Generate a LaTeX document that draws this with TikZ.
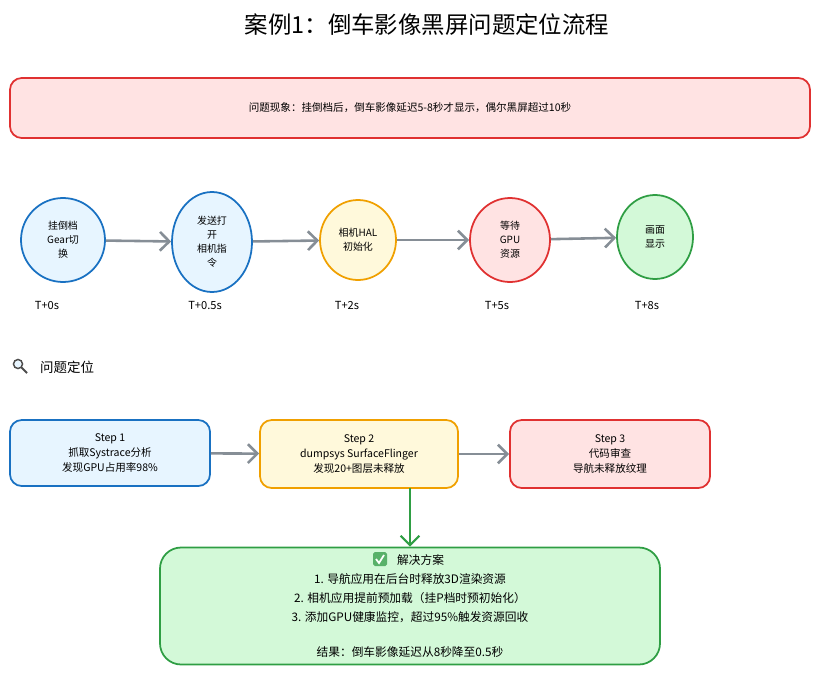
\documentclass[tikz,border=0pt]{standalone}
\usepackage{fontspec}
\setmainfont{Noto Sans CJK SC}
\usetikzlibrary{shapes.geometric,arrows.meta}
\definecolor{cblue}{HTML}{1971C2}\definecolor{fblue}{HTML}{E7F5FF}
\definecolor{cyel}{HTML}{F0A000}\definecolor{fyel}{HTML}{FFF9DB}
\definecolor{cred}{HTML}{E03131}\definecolor{fred}{HTML}{FFE3E3}
\definecolor{cgrn}{HTML}{2F9E44}\definecolor{fgrn}{HTML}{D3F9D8}
\definecolor{cgray}{HTML}{868E96}
\tikzset{
  stage/.style={ellipse, line width=1.5pt, align=center, font=\fontsize{8.5}{12}\selectfont, inner sep=0pt},
  stepbox/.style={rounded corners=10pt, line width=1.5pt, align=center, font=\fontsize{9}{13}\selectfont},
  flow/.style={-{Straight Barb[length=8pt,width=16pt]}, line width=2.2pt, cgray},
  tlabel/.style={font=\fontsize{9.5}{11}\selectfont}
}
\begin{document}
\begin{tikzpicture}[x=0.03cm,y=-0.03cm]
    \useasboundingbox (0,0) rectangle (820,673);
    \node[font=\fontsize{20}{22}\selectfont] (title) at (427,25) {案例1：倒车影像黑屏问题定位流程};
    \node[stepbox, draw=cred, fill=fred, minimum width=800*0.03cm, minimum height=60*0.03cm] (symptom) at (410,108)
        {问题现象：挂倒档后，倒车影像延迟5-8秒才显示，偶尔黑屏超过10秒};
    % timeline
    \node[stage, draw=cblue, fill=fblue, minimum width=84*0.03cm, minimum height=84*0.03cm] (s1) at (63,240) {挂倒档\\Gear切\\换};
    \node[stage, draw=cblue, fill=fblue, minimum width=80*0.03cm, minimum height=100*0.03cm] (s2) at (212,242) {发送打\\开\\相机指\\令};
    \node[stage, draw=cyel, fill=fyel, minimum width=76*0.03cm, minimum height=80*0.03cm] (s3) at (358,240) {相机HAL\\初始化};
    \node[stage, draw=cred, fill=fred, minimum width=80*0.03cm, minimum height=84*0.03cm] (s4) at (510,240) {等待\\GPU\\资源};
    \node[stage, draw=cgrn, fill=fgrn, minimum width=76*0.03cm, minimum height=84*0.03cm] (s5) at (655,237) {画面\\显示};
    \draw[flow] (s1) -- (s2);
    \draw[flow] (s2) -- (s3);
    \draw[flow] (s3) -- (s4);
    \draw[flow] (s4) -- (s5);
    \node[tlabel] (t1) at (47,305) {T+0s};
    \node[tlabel] (t2) at (205,305) {T+0.5s};
    \node[tlabel] (t3) at (347,305) {T+2s};
    \node[tlabel] (t4) at (497,305) {T+5s};
    \node[tlabel] (t5) at (647,305) {T+8s};
    % locating
    \draw[line width=1.3pt, black!70] (18,364) circle (4.5);
    \draw[line width=1.8pt, black!70] (21.5,367.5) -- (27,373);
    \fill[fblue] (18,364) circle (3.3);
    \node[anchor=west, font=\fontsize{11.5}{13}\selectfont] (loc) at (36,367) {问题定位};
    \node[stepbox, draw=cblue, fill=fblue, minimum width=200*0.03cm, minimum height=66*0.03cm] (p1) at (110,453)
        {Step 1\\抓取Systrace分析\\发现GPU占用率98\%};
    \node[stepbox, draw=cyel, fill=fyel, minimum width=198*0.03cm, minimum height=68*0.03cm] (p2) at (359,454)
        {Step 2\\dumpsys SurfaceFlinger\\发现20+图层未释放};
    \node[stepbox, draw=cred, fill=fred, minimum width=200*0.03cm, minimum height=68*0.03cm] (p3) at (610,454)
        {Step 3\\代码审查\\导航未释放纹理};
    \draw[flow] (p1) -- (p2);
    \draw[flow] (p2) -- (p3);
    \node[stepbox, draw=cgrn, fill=fgrn, rounded corners=18pt, minimum width=500*0.03cm, minimum height=117*0.03cm,
          font=\fontsize{10}{16}\selectfont] (fix) at (410,606)
        {\hspace{18pt}解决方案\\1. 导航应用在后台时释放3D渲染资源\\2. 相机应用提前预加载（挂P档时预初始化）\\3. 添加GPU健康监控，超过95\%触发资源回收\\[14pt]结果：倒车影像延迟从8秒降至0.5秒};
    \coordinate (p2b) at (410,488);
    \draw[-{Straight Barb[length=8pt,width=16pt]}, line width=1.8pt, cgrn] (p2b) -- (fix.north -| p2b);
    % check mark
    \fill[cgrn!80, rounded corners=1.5pt] (373,552) rectangle (387,566);
    \draw[white, line width=1.5pt] (376,559) -- (379,563) -- (384,555);
\end{tikzpicture}
\end{document}
